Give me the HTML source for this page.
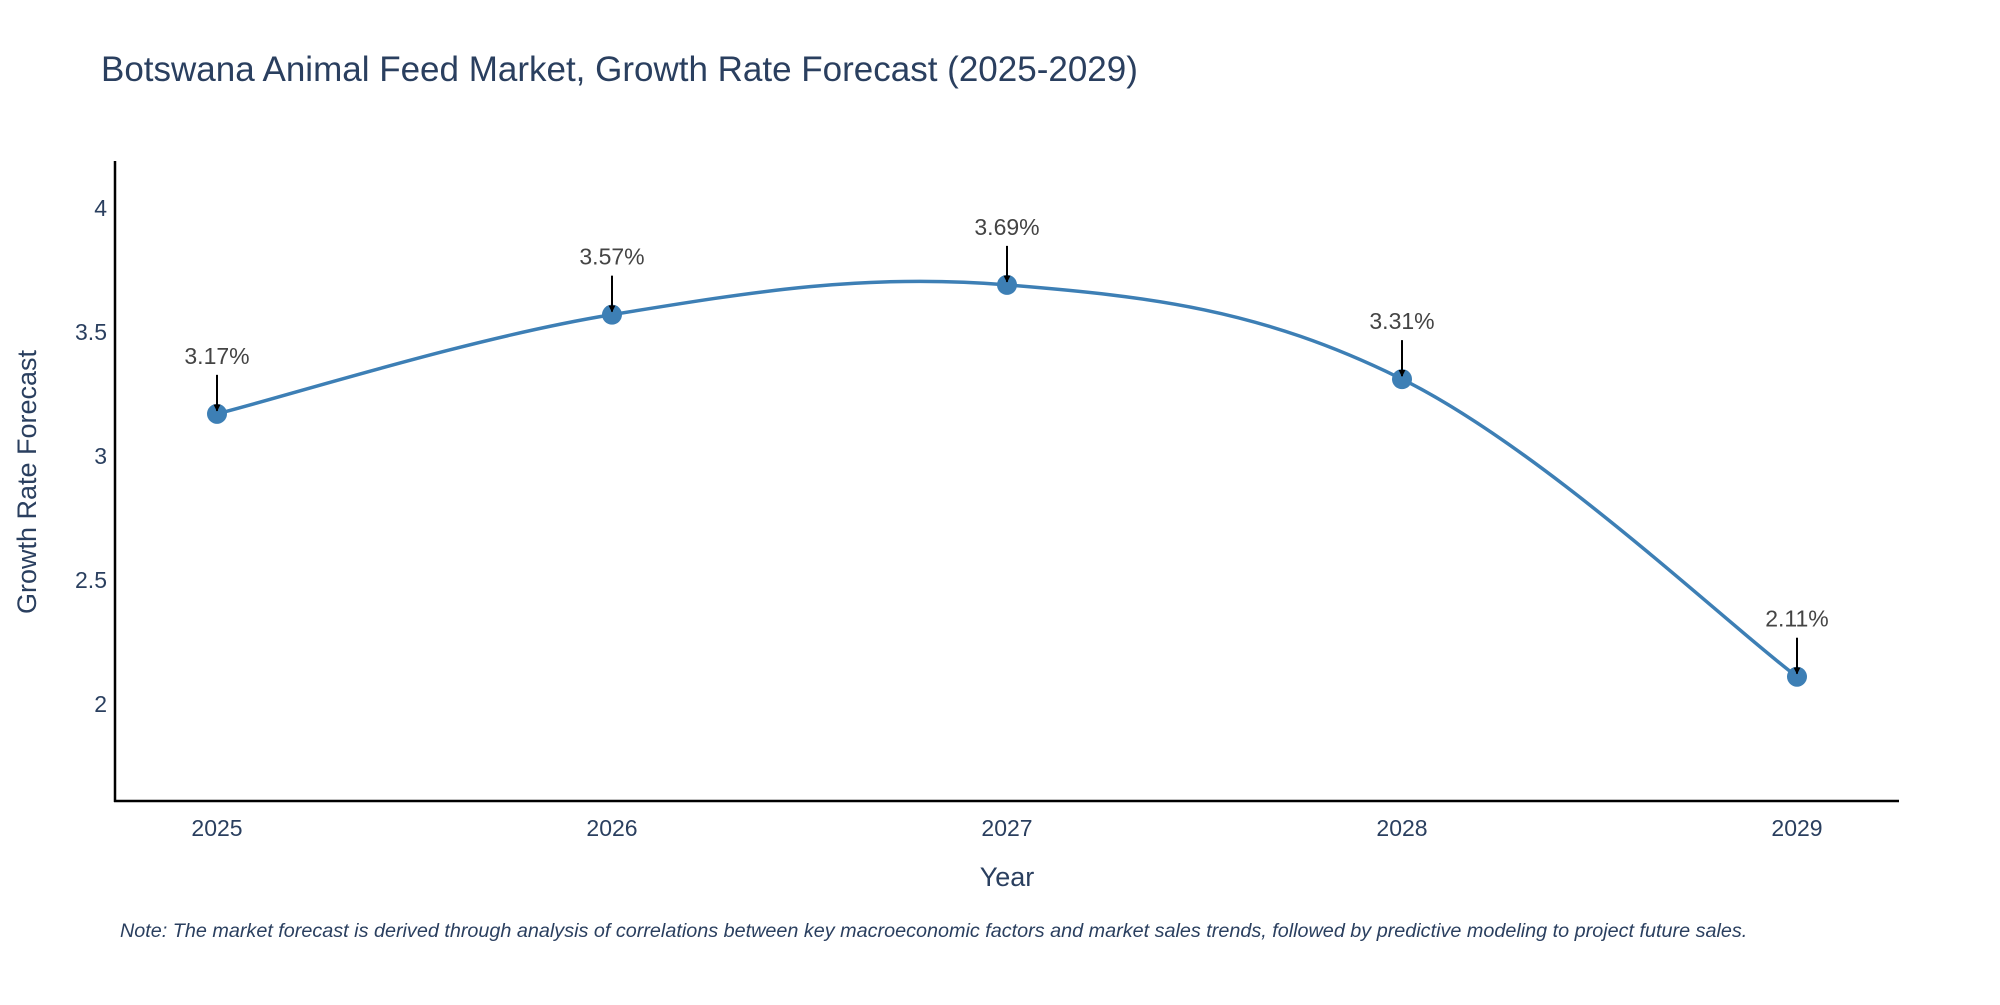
<!DOCTYPE html>
<html><head><meta charset="utf-8"><style>
body{margin:0;background:#fff;}
svg text{font-family:"Liberation Sans",sans-serif;}
</style></head><body>
<svg width="2000" height="1000" xmlns="http://www.w3.org/2000/svg" id="chart">
<text x="101" y="81" font-size="35" fill="#2a3f5f">Botswana Animal Feed Market, Growth Rate Forecast (2025-2029)</text>
<line x1="115" y1="161" x2="115" y2="802" stroke="#000" stroke-width="2.5"/>
<line x1="114" y1="801" x2="1899" y2="801" stroke="#000" stroke-width="2.5"/>
<g id="yticks"></g><g id="xticks"></g>
<path id="line" fill="none" stroke="#3d7fb5" stroke-width="3.5"/>
<g id="marks"></g>
<text x="1007" y="886" font-size="27" fill="#2a3f5f" text-anchor="middle">Year</text>
<text transform="translate(36,482) rotate(-90)" font-size="27" fill="#2a3f5f" text-anchor="middle">Growth Rate Forecast</text>
<text x="120" y="937" font-size="19.8" font-style="italic" fill="#2a3f5f">Note: The market forecast is derived through analysis of correlations between key macroeconomic factors and market sales trends, followed by predictive modeling to project future sales.</text>
<defs><marker id="ah" viewBox="0 0 10 10" refX="9" refY="5" markerWidth="7" markerHeight="7" markerUnits="userSpaceOnUse" orient="auto"><path d="M0,0 L10,5 L0,10 z" fill="#000"/></marker></defs>
</svg>
<script>
const years=[2025,2026,2027,2028,2029];
const values=[3.17,3.57,3.69,3.31,2.11];
const labels=["3.17%","3.57%","3.69%","3.31%","2.11%"];
const yTicks=[2,2.5,3,3.5,4];
const NS="http://www.w3.org/2000/svg";
const x=v=>217+(v-2025)*395;
const y=v=>704-(v-2)*248;
function mk(t,a,p){const e=document.createElementNS(NS,t);for(const k in a)e.setAttribute(k,a[k]);p.appendChild(e);return e;}
const yt=document.getElementById('yticks');
yTicks.forEach(t=>{const e=mk('text',{x:107,y:y(t)+8,'font-size':23,fill:'#2a3f5f','text-anchor':'end'},yt);e.textContent=t;

});
const xt=document.getElementById('xticks');
years.forEach(t=>{const e=mk('text',{x:x(t),y:836,'font-size':23,fill:'#2a3f5f','text-anchor':'middle'},xt);e.textContent=t;

});
const P=years.map((yr,i)=>[x(yr),y(values[i])]);
let d=`M${P[0][0]},${P[0][1]}`;
for(let i=0;i<P.length-1;i++){const p0=P[i-1]||P[i],p1=P[i],p2=P[i+1],p3=P[i+2]||P[i+1];const k=0.18;
d+=` C${p1[0]+(p2[0]-p0[0])*k},${p1[1]+(p2[1]-p0[1])*k} ${p2[0]-(p3[0]-p1[0])*k},${p2[1]-(p3[1]-p1[1])*k} ${p2[0]},${p2[1]}`;}
document.getElementById('line').setAttribute('d',d);
const g=document.getElementById('marks');
P.forEach((p,i)=>{
const c=mk('circle',{cx:p[0],cy:p[1],r:10,fill:'#3d7fb5'},g);


const a=mk('line',{x1:p[0],y1:p[1]-39,x2:p[0],y2:p[1]-3,stroke:'#000','stroke-width':2,'marker-end':'url(#ah)'},g);


const t=mk('text',{x:p[0],y:p[1]-50,'font-size':23,fill:'#444','text-anchor':'middle'},g);t.textContent=labels[i];


});
</script>
</body></html>
